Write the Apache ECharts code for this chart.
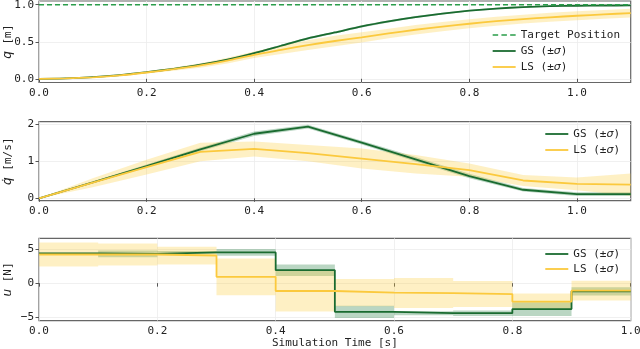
<!DOCTYPE html>
<html>
<head>
<meta charset="utf-8">
<script src="https://cdn.jsdelivr.net/npm/echarts@6/dist/echarts.min.js"></script>
<style>
  html, body { margin: 0; padding: 0; background: #fff; }
  #chart { width: 640px; height: 349px; }
</style>
</head>
<body>
<div id="chart"></div>
<script>
// time grids
var tPos = [0, 0.05, 0.1, 0.15, 0.2, 0.25, 0.3, 0.35, 0.4, 0.45, 0.5, 0.55,
  0.6, 0.65, 0.7, 0.75, 0.8, 0.85, 0.9, 0.95, 1.0, 1.05, 1.1]
var tVel = [0, 0.1, 0.2, 0.3, 0.4, 0.5, 0.6, 0.7, 0.8, 0.9, 1.0, 1.1]
var tCtrl = [0, 0.1, 0.2, 0.3, 0.4, 0.5, 0.6, 0.7, 0.8, 0.9, 1.0]

// position q [m]
var qGS = [0, 0.005, 0.022, 0.05, 0.09, 0.135, 0.19, 0.26, 0.347, 0.446, 0.545, 0.625,
  0.707, 0.775, 0.833, 0.88, 0.919, 0.948, 0.968, 0.98, 0.986, 0.989, 0.99]
var qGSsd = [0, 0.001, 0.002, 0.003, 0.004, 0.006, 0.008, 0.01, 0.012, 0.014, 0.015, 0.015,
  0.015, 0.014, 0.013, 0.012, 0.011, 0.01, 0.009, 0.008, 0.008, 0.008, 0.008]
var qLS = [0, 0.005, 0.02, 0.045, 0.085, 0.13, 0.18, 0.245, 0.324, 0.39, 0.455, 0.51,
  0.559, 0.612, 0.662, 0.705, 0.743, 0.777, 0.806, 0.83, 0.851, 0.87, 0.887]
var qLSsd = [0, 0.002, 0.005, 0.01, 0.015, 0.022, 0.03, 0.038, 0.045, 0.055, 0.065, 0.07,
  0.068, 0.065, 0.063, 0.062, 0.06, 0.06, 0.06, 0.06, 0.06, 0.06, 0.06]
var qTarget = 1.0

// velocity qdot [m/s]
var vGS = [0, 0.43, 0.87, 1.32, 1.74, 1.93, 1.5, 1.05, 0.6, 0.23, 0.11, 0.11]
var vGSsd = [0, 0.02, 0.04, 0.05, 0.06, 0.05, 0.05, 0.06, 0.06, 0.05, 0.05, 0.05]
var vLS = [0, 0.42, 0.84, 1.25, 1.33, 1.22, 1.07, 0.92, 0.76, 0.48, 0.39, 0.37]
var vLSsd = [0, 0.12, 0.2, 0.25, 0.2, 0.22, 0.27, 0.25, 0.18, 0.15, 0.17, 0.3]

// control u [N], piecewise constant (last value repeated at t=1.0)
var uGS = [4.35, 4.3, 4.5, 4.5, 1.9, -4.2, -4.4, -4.4, -3.8, -1.2, -1.2]
var uGSsd = [0.1, 0.5, 0.2, 0.5, 0.85, 0.9, 0.3, 0.4, 1.0, 0.6, 0.6]
var uLS = [4.2, 4.2, 4.05, 0.92, -1.15, -1.4, -1.45, -1.6, -2.7, -1.1, -1.1]
var uLSsd = [1.75, 1.6, 1.3, 2.7, 3.0, 2.0, 2.2, 1.9, 1.2, 1.45, 1.45]

// tick labels
var xTicks = [0, 0.2, 0.4, 0.6, 0.8, 1.0]
var qTicks = [0, 0.5, 1.0]
var vTicks = [0, 1, 2]
var uTicks = [-5, 0, 5]

var GS_COLOR = '#1a6b30'
var GS_BAND = 'rgba(27,120,55,0.3)'
var LS_COLOR = '#fbc93d'
var LS_BAND = 'rgba(253,205,60,0.3)'
var TARGET_COLOR = '#2a9d4a'
var MONO = 'DejaVu Sans Mono'

function zip(t, v) {
  return t.map(function (x, i) { return [x, v[i]] })
}

// mean +- sd band drawn as one polygon through the axis scales
function band(idx, t, mean, sd, color, step) {
  var data = t.map(function (x, i) { return [x, mean[i] - sd[i], mean[i] + sd[i]] })
  return {
    type: 'custom',
    xAxisIndex: idx,
    yAxisIndex: idx,
    silent: true,
    z: 1,
    encode: { x: 0, y: [1, 2] },
    data: data,
    renderItem: function (params, api) {
      if (params.dataIndex !== 0) return null
      var up = [], lo = []
      for (var i = 0; i < data.length; i++) {
        up.push(api.coord([data[i][0], data[i][2]]))
        lo.push(api.coord([data[i][0], data[i][1]]))
        if (step && i < data.length - 1) {
          up.push(api.coord([data[i + 1][0], data[i][2]]))
          lo.push(api.coord([data[i + 1][0], data[i][1]]))
        }
      }
      return {
        type: 'polygon',
        shape: { points: up.concat(lo.reverse()) },
        style: { fill: color }
      }
    }
  }
}

function line(name, idx, t, v, color, opts) {
  return {
    type: 'line',
    name: name,
    xAxisIndex: idx,
    yAxisIndex: idx,
    data: zip(t, v),
    symbol: 'none',
    smooth: opts.smooth || false,
    step: opts.step || false,
    lineStyle: { color: color, width: opts.width || 1.8, type: opts.dash ? [5, 3] : 'solid' },
    itemStyle: { color: color },
    z: opts.z || 3
  }
}

var grids = [
  { left: 39, right: 9.3, top: 1, height: 81.5 },
  { left: 39, right: 9.3, top: 121.7, height: 79 },
  { left: 39, right: 9.3, top: 238.3, height: 82.4 }
]
grids.forEach(function (g) {
  g.show = true
  g.borderColor = '#666'
  g.borderWidth = 1.2
  g.containLabel = false
  g.outerBoundsMode = 'none'
})

function xAxis(idx, max, name) {
  return {
    type: 'value',
    gridIndex: idx,
    min: 0,
    max: max,
    name: name || '',
    nameLocation: 'middle',
    nameGap: 17,
    nameMoveOverlap: false,
    nameTextStyle: { fontFamily: MONO, fontSize: 11, color: '#222' },
    axisLine: { show: false },
    axisTick: { show: true, length: 3.5, lineStyle: { color: '#555' }, customValues: xTicks },
    axisLabel: {
      customValues: xTicks,
      fontFamily: MONO, fontSize: 11, color: '#222', margin: 5,
      formatter: function (v) { return v.toFixed(1) }
    },
    splitLine: { show: true, lineStyle: { color: '#ececec', width: 0.8 } }
  }
}

function yAxis(idx, min, max, ticks, name, fmt) {
  return {
    type: 'value',
    gridIndex: idx,
    min: min,
    max: max,
    name: name,
    nameLocation: 'middle',
    nameRotate: 90,
    nameGap: 25,
    nameMoveOverlap: false,
    nameTextStyle: {
      fontFamily: MONO, fontSize: 11, color: '#222',
      rich: { i: { fontFamily: 'DejaVu Sans', fontStyle: 'italic', fontSize: 12, color: '#222' } }
    },
    axisLine: { show: false },
    axisTick: { show: true, length: 3.5, lineStyle: { color: '#555' }, customValues: ticks },
    axisLabel: {
      customValues: ticks,
      fontFamily: MONO, fontSize: 11, color: '#222', margin: 5,
      formatter: fmt
    },
    splitLine: { show: true, lineStyle: { color: '#ececec', width: 0.8 } }
  }
}

function intFmt(v) {
  var r = Math.round(v)
  return r < 0 ? '\u2212' + Math.abs(r) : String(r)
}

var SOLID_ICON = 'path://M0,0h23v1.8h-23z'
var DASH_ICON = 'path://M0,0h5.5v1.6h-5.5zM8.75,0h5.5v1.6h-5.5zM17.5,0h5.5v1.6h-5.5z'

function legend(top, gap, items) {
  return {
    orient: 'vertical',
    right: 15,
    top: top,
    itemWidth: 23,
    itemHeight: 14,
    itemGap: gap,
    data: items,
    textStyle: {
      fontFamily: MONO, fontSize: 11, color: '#222',
      rich: { i: { fontFamily: 'DejaVu Sans', fontStyle: 'italic', fontSize: 11, color: '#222' } }
    },
    formatter: function (n) {
      return n.replace('\u03c3', '{i|\u03c3}')
    }
  }
}

var GS = 'GS (\u00b1\u03c3)'
var LS = 'LS (\u00b1\u03c3)'
var gsItem = { name: GS, icon: SOLID_ICON }
var lsItem = { name: LS, icon: SOLID_ICON }

var series = [
  band(0, tPos, qGS, qGSsd, GS_BAND, false),
  band(0, tPos, qLS, qLSsd, LS_BAND, false),
  line('Target Position', 0, [0, 1.1], [qTarget, qTarget], TARGET_COLOR, { dash: true, width: 1.5, z: 4 }),
  line(GS, 0, tPos, qGS, GS_COLOR, { smooth: 0.2 }),
  line(LS, 0, tPos, qLS, LS_COLOR, { smooth: 0.2 }),

  band(1, tVel, vGS, vGSsd, GS_BAND, false),
  band(1, tVel, vLS, vLSsd, LS_BAND, false),
  line(GS, 1, tVel, vGS, GS_COLOR, {}),
  line(LS, 1, tVel, vLS, LS_COLOR, {}),

  band(2, tCtrl, uGS, uGSsd, GS_BAND, true),
  band(2, tCtrl, uLS, uLSsd, LS_BAND, true),
  line(GS, 2, tCtrl, uGS, GS_COLOR, { step: 'end' }),
  line(LS, 2, tCtrl, uLS, LS_COLOR, { step: 'end' })
]

var option = {
  animation: false,
  backgroundColor: '#fff',
  grid: grids,
  xAxis: [xAxis(0, 1.1), xAxis(1, 1.1), xAxis(2, 1.0, 'Simulation Time [s]')],
  yAxis: [
    yAxis(0, -0.05, 1.05, qTicks, '{i|q} [m]', function (v) { return v.toFixed(1) }),
    yAxis(1, -0.065, 2.065, vTicks, '{i|q\u0307} [m/s]', intFmt),
    yAxis(2, -5.5, 6.57, uTicks, '{i|u} [N]', intFmt)
  ],
  legend: [
    legend(24.5, 5, [{ name: 'Target Position', icon: DASH_ICON }, gsItem, lsItem]),
    legend(123.5, 5, [gsItem, lsItem]),
    legend(243.5, 4, [gsItem, lsItem])
  ],
  series: series
}

var chart = echarts.init(document.getElementById('chart'), null, { renderer: 'canvas' })
chart.setOption(option)
</script>
</body>
</html>
